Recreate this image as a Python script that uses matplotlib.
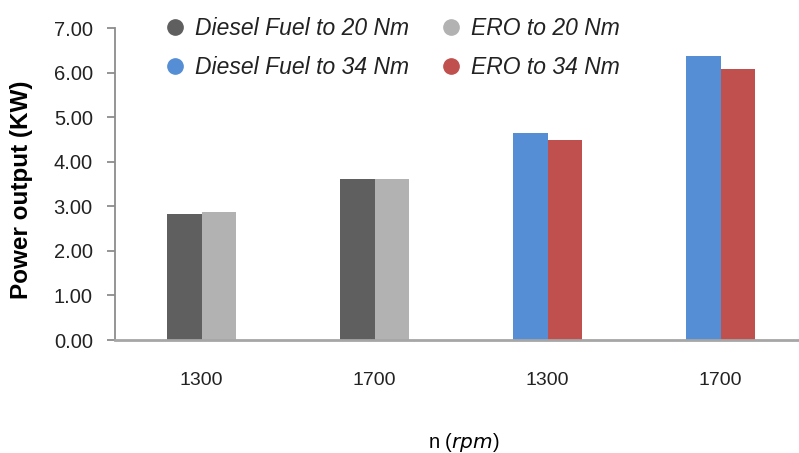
import matplotlib
matplotlib.use("Agg")
import matplotlib.pyplot as plt
from matplotlib.lines import Line2D
import numpy as np

plt.rcParams['font.family'] = ['Liberation Sans', 'DejaVu Sans']

# Data
rpm_labels = ['1300', '1700', '1300', '1700']
diesel_20 = [2.82, 3.61]
ero_20 = [2.88, 3.61]
diesel_34 = [4.64, 6.37]
ero_34 = [4.49, 6.08]
yticks = [0, 1, 2, 3, 4, 5, 6, 7]

c_d20 = '#5f5f5f'
c_e20 = '#b2b2b2'
c_d34 = '#558ed5'
c_e34 = '#c0504d'

fig = plt.figure(figsize=(7.99, 4.53), dpi=100)
ax = fig.add_axes([115/799, 113/453, 692/799, 312/453])

w = 0.2
x20 = np.arange(len(diesel_20))
x34 = np.arange(len(diesel_34)) + len(diesel_20)
ax.bar(x20 - w/2, diesel_20, width=w, color=c_d20)
ax.bar(x20 + w/2, ero_20, width=w, color=c_e20)
ax.bar(x34 - w/2, diesel_34, width=w, color=c_d34)
ax.bar(x34 + w/2, ero_34, width=w, color=c_e34)

ax.set_xlim(-0.5, 3.5)
ax.set_ylim(0, 7)
ax.set_yticks(yticks)
ax.set_yticklabels([f'{v:.2f}' for v in yticks])
ax.set_xticks(range(len(rpm_labels)))
ax.set_xticklabels(rpm_labels)

ax.spines['top'].set_visible(False)
ax.spines['right'].set_visible(False)
ax.spines['left'].set_color('#8c8c8c')
ax.spines['left'].set_linewidth(1.3)
ax.spines['bottom'].set_color('#a6a6a6')
ax.spines['bottom'].set_linewidth(2)
ax.tick_params(axis='y', length=6, width=1.3, color='#8c8c8c', pad=10, labelsize=14.5, labelcolor='#222222')
ax.tick_params(axis='x', length=0, pad=23, labelsize=14, labelcolor='#222222')

ax.set_ylabel('Power output (KW)', fontsize=17.5, fontweight='bold')
ax.yaxis.label.set_va('center')
ax.yaxis.set_label_coords(-(115-21)/692, (340-190)/312)
ax.set_xlabel('n ($\\it{rpm}$)', fontsize=14.5)
ax.xaxis.set_label_coords((464-115)/692, -(442-340)/312)
ax.xaxis.label.set_va('center')

handles = [
    Line2D([], [], marker='o', linestyle='none', markersize=11, color=c_d20, label='Diesel Fuel to 20 Nm'),
    Line2D([], [], marker='o', linestyle='none', markersize=11, color=c_d34, label='Diesel Fuel to 34 Nm'),
    Line2D([], [], marker='o', linestyle='none', markersize=11, color=c_e20, label='ERO to 20 Nm'),
    Line2D([], [], marker='o', linestyle='none', markersize=11, color=c_e34, label='ERO to 34 Nm'),
]
leg = fig.legend(handles=handles, ncol=2, loc='upper left', bbox_to_anchor=(166/799, 1 - 17/453),
                 frameon=False, fontsize=16.5, handlelength=0.8, handletextpad=0.45,
                 columnspacing=1.45, labelspacing=0.7, borderpad=0, borderaxespad=0)
for t in leg.get_texts():
    t.set_fontstyle('italic')
    t.set_color('#222222')

fig.savefig('out.png', dpi=100)
